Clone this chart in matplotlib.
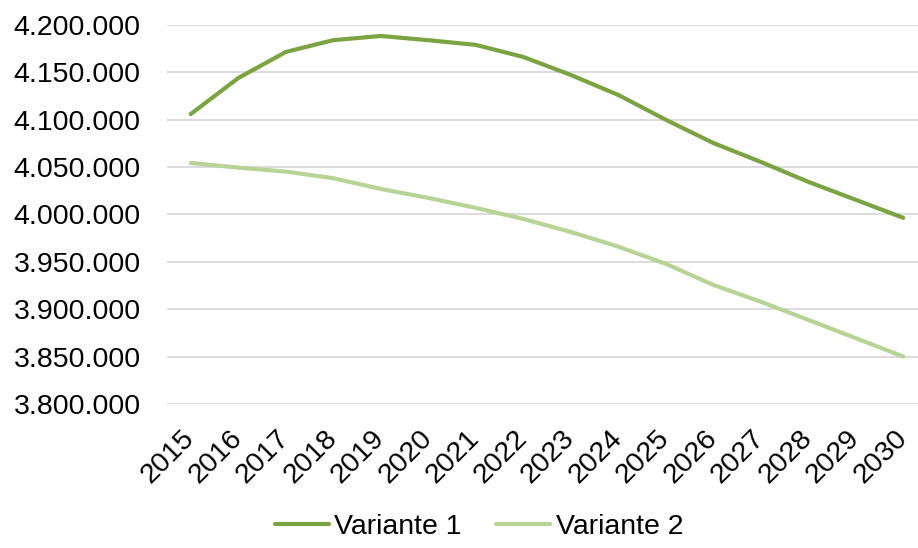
import matplotlib
matplotlib.use("Agg")
import matplotlib.pyplot as plt
from matplotlib.ticker import FuncFormatter, MultipleLocator

years = [str(y) for y in range(2015, 2031)]
variante_1 = [4106000, 4144000, 4171500, 4184000, 4188400, 4184000, 4179000, 4166300,
              4147300, 4126200, 4100000, 4075500, 4055500, 4034500, 4015500, 3996500]
variante_2 = [4054400, 4049500, 4045300, 4038300, 4027000, 4017500, 4007000, 3995300,
              3981600, 3966100, 3948000, 3925700, 3908000, 3888800, 3869500, 3850100]

plt.rcParams['font.family'] = ['Liberation Sans', 'DejaVu Sans']

fig = plt.figure(figsize=(9.18, 5.48), dpi=100)
ax = fig.add_axes([167 / 918, 1 - 404 / 548, (927 - 167) / 918, (404 - 25) / 548])

x = range(len(years))
ax.plot(x, variante_1, color='#7BA342', lw=3.0, label='Variante 1', solid_capstyle='round')
ax.plot(x, variante_2, color='#B7D395', lw=3.0, label='Variante 2', solid_capstyle='round')

ax.set_xlim(-0.5, len(years) - 0.5)
ax.set_ylim(3800000, 4200000)
ax.yaxis.set_major_locator(MultipleLocator(50000))
ax.yaxis.set_major_formatter(FuncFormatter(lambda v, p: f"{v:,.0f}".replace(",", ".")))
ax.grid(axis='y', color='#D9D9D9', lw=1.3)
ax.set_axisbelow(True)
for s in ax.spines.values():
    s.set_visible(False)

ax.set_xticks(list(x))
ax.set_xticklabels(years, rotation=45, ha='right', va='center', rotation_mode='anchor')
ax.tick_params(axis='both', length=0, labelsize=20.5, colors='#000000')
ax.tick_params(axis='y', pad=19)
ax.tick_params(axis='x', pad=22)

fig.legend(loc='center', bbox_to_anchor=(479 / 918, 1 - 527 / 548), ncol=2, frameon=False,
           fontsize=20.5, handlelength=1.9, handletextpad=0.2, columnspacing=1.2)

fig.savefig('out.png', dpi=100)
